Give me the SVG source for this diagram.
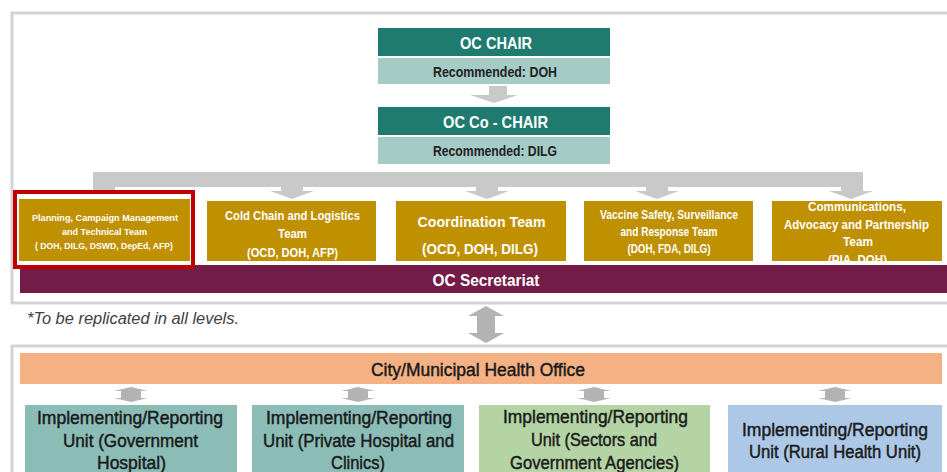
<svg xmlns="http://www.w3.org/2000/svg" width="947" height="472" viewBox="0 0 947 472">
<defs>
<style>
.frame{fill:#fff;stroke:#d3d3d3;stroke-width:3}
.dark{fill:#1f7b6f}
.light{fill:#a4cbc6}
.gold{fill:#bf9000}
.arr{fill:#c9c9c9}
.arr2{fill:#b3b3b3}
text{font-family:"Liberation Sans",Arial,sans-serif}
.w{fill:#fff;font-weight:bold;text-anchor:middle}
.rec{font-size:14px;font-weight:bold;fill:#222;text-anchor:middle}
.iru{font-size:18px;fill:#1a1a1a;stroke:#1a1a1a;stroke-width:0.45;text-anchor:middle}
</style>
<clipPath id="clip5"><rect x="772" y="201" width="170" height="60"/></clipPath>
</defs>

<g id="frames">
<rect class="frame" x="12" y="13" width="950" height="290"/>
<rect class="frame" x="12" y="346" width="950" height="140"/>
</g>

<g id="connectors">
<rect class="arr" x="489" y="86" width="18" height="9"/>
<polygon class="arr" points="470,95 518,95 494,103"/>
<rect class="arr" x="93" y="172" width="770" height="15"/>
<rect class="arr" x="93" y="187" width="22" height="6"/>
<polygon class="arr" points="82,193 126,193 104,200"/>
<rect class="arr" x="281" y="187" width="22" height="4"/>
<polygon class="arr" points="270,191 314,191 292,199"/>
<rect class="arr" x="476" y="187" width="22" height="4"/>
<polygon class="arr" points="465,191 509,191 487,199"/>
<rect class="arr" x="646" y="187" width="22" height="4"/>
<polygon class="arr" points="635,191 679,191 657,199"/>
<rect class="arr" x="841" y="187" width="22" height="4"/>
<polygon class="arr" points="829,191 873,191 851,199"/>
<polygon class="arr2" points="486,306 504,316 495,316 495,333 504,333 486,343 468,333 477,333 477,316 468,316"/>
<polygon class="arr2" points="131,387 148,391 141,391 141,398 148,398 131,402 114,398 121,398 121,391 114,391"/>
<polygon class="arr2" points="358,387 375,391 368,391 368,398 375,398 358,402 341,398 348,398 348,391 341,391"/>
<polygon class="arr2" points="594,387 611,391 604,391 604,398 611,398 594,402 577,398 584,398 584,391 577,391"/>
<polygon class="arr2" points="835,387 852,391 845,391 845,398 852,398 835,402 818,398 825,398 825,391 818,391"/>
</g>

<g id="oc-chair">
<rect class="dark" x="378" y="28" width="232" height="28"/>
<text class="w" x="496" y="48.5" font-size="17" textLength="72" lengthAdjust="spacingAndGlyphs">OC CHAIR</text>
<rect class="light" x="378" y="58" width="232" height="26"/>
<text class="rec" x="495" y="76.5" textLength="124" lengthAdjust="spacingAndGlyphs">Recommended: DOH</text>
</g>

<g id="oc-co-chair">
<rect class="dark" x="378" y="107" width="232" height="28"/>
<text class="w" x="495.5" y="127.5" font-size="17" textLength="105" lengthAdjust="spacingAndGlyphs">OC  Co - CHAIR</text>
<rect class="light" x="378" y="137" width="232" height="27"/>
<text class="rec" x="495" y="156" textLength="124" lengthAdjust="spacingAndGlyphs">Recommended: DILG</text>
</g>

<g id="secretariat">
<rect x="20" y="265" width="930" height="28" fill="#721c47"/>
<text class="w" x="486" y="285.5" font-size="16" textLength="107" lengthAdjust="spacingAndGlyphs">OC Secretariat</text>
</g>

<g id="team-planning">
<rect x="15" y="192" width="178" height="75" fill="#fff" stroke="#c00000" stroke-width="4"/>
<rect class="gold" x="19" y="199" width="171" height="62"/>
<text class="w" font-size="8.6" x="105" y="221" textLength="146" lengthAdjust="spacingAndGlyphs">Planning, Campaign Management</text>
<text class="w" font-size="8.6" x="104.5" y="235" textLength="85" lengthAdjust="spacingAndGlyphs">and Technical Team</text>
<text class="w" font-size="8.6" x="104" y="249" textLength="138" lengthAdjust="spacingAndGlyphs">( DOH, DILG, DSWD, DepEd, AFP)</text>
</g>

<g id="team-cold-chain">
<rect class="gold" x="207" y="201" width="169" height="60"/>
<text class="w" font-size="13" x="292.5" y="220" textLength="135" lengthAdjust="spacingAndGlyphs">Cold Chain and Logistics</text>
<text class="w" font-size="13" x="292.5" y="238" textLength="29" lengthAdjust="spacingAndGlyphs">Team</text>
<text class="w" font-size="13" x="292.5" y="257" textLength="91" lengthAdjust="spacingAndGlyphs">(OCD, DOH, AFP)</text>
</g>

<g id="team-coordination">
<rect class="gold" x="396" y="201" width="170" height="60"/>
<text class="w" font-size="15.5" x="481.5" y="226.5" textLength="128" lengthAdjust="spacingAndGlyphs">Coordination Team</text>
<text class="w" font-size="15.5" x="480" y="254" textLength="116" lengthAdjust="spacingAndGlyphs">(OCD, DOH, DILG)</text>
</g>

<g id="team-vaccine-safety">
<rect class="gold" x="584" y="201" width="169" height="60"/>
<text class="w" font-size="12" x="669" y="219" textLength="138" lengthAdjust="spacingAndGlyphs">Vaccine Safety, Surveillance</text>
<text class="w" font-size="12" x="669" y="236" textLength="97" lengthAdjust="spacingAndGlyphs">and Response Team</text>
<text class="w" font-size="12" x="669" y="252.5" textLength="83" lengthAdjust="spacingAndGlyphs">(DOH, FDA, DILG)</text>
</g>

<g id="team-communications">
<rect class="gold" x="772" y="201" width="170" height="60"/>
<g clip-path="url(#clip5)">
<text class="w" font-size="12.8" x="857" y="211" textLength="98" lengthAdjust="spacingAndGlyphs">Communications,</text>
<text class="w" font-size="12.8" x="856.5" y="229" textLength="145" lengthAdjust="spacingAndGlyphs">Advocacy and Partnership</text>
<text class="w" font-size="12.8" x="858" y="245.5" textLength="30" lengthAdjust="spacingAndGlyphs">Team</text>
<text class="w" font-size="12.8" x="857.5" y="264" textLength="59" lengthAdjust="spacingAndGlyphs">(PIA, DOH)</text>
</g>
</g>

<g id="note">
<text x="27" y="323.5" font-style="italic" font-size="16" fill="#404040" textLength="212" lengthAdjust="spacingAndGlyphs">*To be replicated in all levels.</text>
</g>

<g id="cmho">
<rect x="20" y="353" width="922" height="31" fill="#f4b183"/>
<text class="iru" x="478" y="375.5" font-size="17" textLength="214" lengthAdjust="spacingAndGlyphs">City/Municipal Health Office</text>
</g>

<g id="iru-government-hospital">
<rect x="25" y="405" width="212" height="80" fill="#8bbdb6"/>
<text class="iru" x="130" y="424" textLength="186" lengthAdjust="spacingAndGlyphs">Implementing/Reporting</text>
<text class="iru" x="130.5" y="446.5" textLength="135" lengthAdjust="spacingAndGlyphs">Unit (Government</text>
<text class="iru" x="131.5" y="469" textLength="69" lengthAdjust="spacingAndGlyphs">Hospital)</text>
</g>

<g id="iru-private-hospital">
<rect x="252" y="405" width="212" height="80" fill="#8bbdb6"/>
<text class="iru" x="359" y="424" textLength="186" lengthAdjust="spacingAndGlyphs">Implementing/Reporting</text>
<text class="iru" x="358.5" y="446.5" textLength="191" lengthAdjust="spacingAndGlyphs">Unit (Private Hospital and</text>
<text class="iru" x="358" y="469" textLength="54" lengthAdjust="spacingAndGlyphs">Clinics)</text>
</g>

<g id="iru-sectors">
<rect x="479" y="405" width="231" height="80" fill="#b4d4a5"/>
<text class="iru" x="595.5" y="423" textLength="185" lengthAdjust="spacingAndGlyphs">Implementing/Reporting</text>
<text class="iru" x="594" y="446" textLength="126" lengthAdjust="spacingAndGlyphs">Unit (Sectors and</text>
<text class="iru" x="594.5" y="469" textLength="169" lengthAdjust="spacingAndGlyphs">Government Agencies)</text>
</g>

<g id="iru-rural-health-unit">
<rect x="728" y="405" width="214" height="80" fill="#adc8e7"/>
<text class="iru" x="835" y="435.5" textLength="186" lengthAdjust="spacingAndGlyphs">Implementing/Reporting</text>
<text class="iru" x="835" y="457.5" textLength="172" lengthAdjust="spacingAndGlyphs">Unit (Rural Health Unit)</text>
</g>
</svg>
